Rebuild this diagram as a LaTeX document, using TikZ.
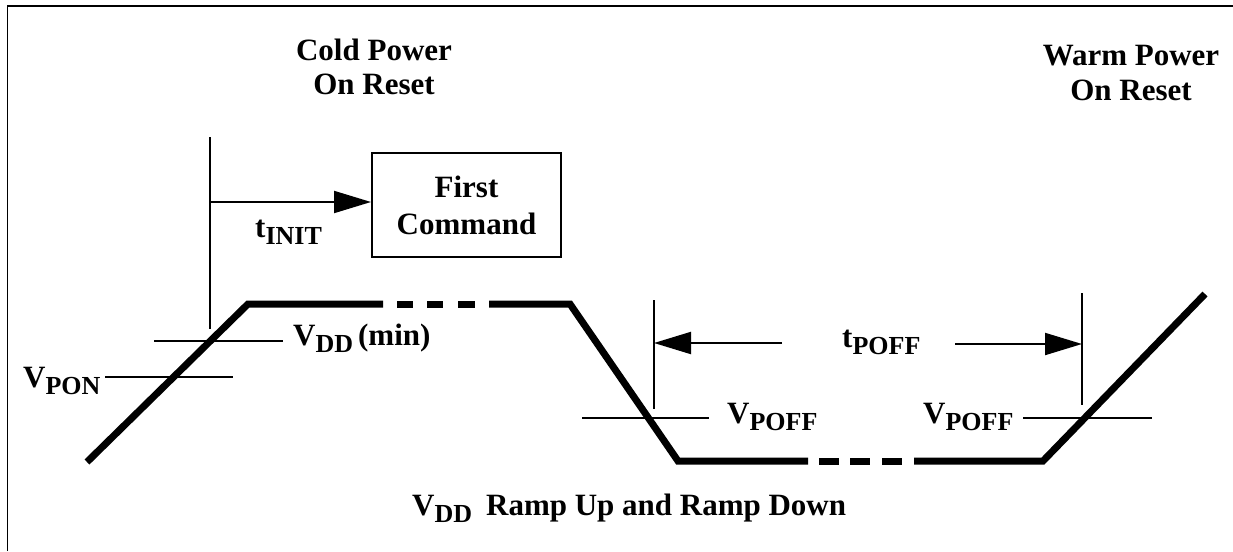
\documentclass[tikz,border=0pt]{standalone}
\usepackage{fontspec}
\setmainfont{Liberation Serif}
\usetikzlibrary{arrows.meta}
\newcommand\sbs[1]{\raisebox{-7.5pt}{\fontsize{26}{26}\selectfont #1}}
\begin{document}
\begin{tikzpicture}[x=1pt,y=-1pt,
  lbl/.style={font=\fontsize{31}{34}\selectfont\bfseries, inner sep=0pt, anchor=base west},
  ttl/.style={font=\fontsize{31}{34}\selectfont\bfseries, inner sep=0pt, anchor=base},
  thinln/.style={line width=2pt},
  wave/.style={line width=7pt, line join=miter},
  arr/.style={thinln, -{Triangle[length=37pt,width=22pt]}},
  frame/.style={line width=1.8pt}]
\useasboundingbox (0,0) rectangle (1233,551);
% frame
\draw[frame] (7.5,551) -- (7.5,6) -- (1233,6);
% headings
\node[ttl] (cold1) at (374,60) {Cold Power};
\node[ttl] (cold2) at (374,94) {On Reset};
\node[ttl] (warm1) at (1131,65) {Warm Power};
\node[ttl] (warm2) at (1131,100) {On Reset};
% first command box
\node[draw, line width=2pt, minimum width=189pt, minimum height=104pt, inner sep=0pt,
      align=center, font=\fontsize{31}{37}\selectfont\bfseries] (cmd) at (466.5,205) {First\\Command};
% t_INIT marker
\coordinate (initTop) at (210,137);
\coordinate (initBot) at (210,329);
\draw[thinln] (initTop) -- (initBot);
\coordinate (ia) at (210,202);
\draw[arr] (ia) -- (ia -| cmd.west);
\node[lbl] (tinit) at (255,237) {t\sbs{INIT}};
% level lines left
\coordinate (ponL) at (105,377); \coordinate (ponR) at (233,377);
\draw[thinln] (ponL) -- (ponR);
\coordinate (ddL) at (154,341); \coordinate (ddR) at (283,341);
\draw[thinln] (ddL) -- (ddR);
\node[lbl] (vpon) at (23,387) {V\sbs{PON}};
\node[lbl] (vddmin) at (293,345) {V\sbs{DD}\hspace{5pt}(min)};
% t_POFF markers
\coordinate (p1T) at (654,300); \coordinate (p1B) at (654,409);
\draw[thinln] (p1T) -- (p1B);
\coordinate (p2T) at (1082,293); \coordinate (p2B) at (1082,405);
\draw[thinln] (p2T) -- (p2B);
\coordinate (pa1) at (782,343);
\draw[arr] (pa1) -- (pa1 -| p1T);
\coordinate (pa2) at (955,344);
\draw[arr] (pa2) -- (pa2 -| p2T);
\node[lbl] (tpoff) at (842,347) {t\sbs{POFF}};
% V_POFF lines
\coordinate (off1L) at (582,418); \coordinate (off1R) at (709,418);
\draw[thinln] (off1L) -- (off1R);
\coordinate (off2L) at (1023,418); \coordinate (off2R) at (1152,418);
\draw[thinln] (off2L) -- (off2R);
\node[lbl] (vpoff1) at (727,423) {V\sbs{POFF}};
\node[lbl] (vpoff2) at (923,423) {V\sbs{POFF}};
% waveform
\coordinate (w0) at (87,462);
\coordinate (w1) at (248,304);
\coordinate (w2) at (383,304);
\coordinate (w3) at (489,304);
\coordinate (w4) at (570,304);
\coordinate (w5) at (678,461);
\coordinate (w6) at (808,461);
\coordinate (w7) at (914,461);
\coordinate (w8) at (1043,461);
\coordinate (w9) at (1205,294);
\draw[wave] (w0) -- (w1) -- (w2);
\draw[wave] (397,304) -- (413,304);
\draw[wave] (427,304) -- (443,304);
\draw[wave] (458,304) -- (475,304);
\draw[wave] (w3) -- (w4) -- (w5) -- (w6);
\draw[wave] (819,461) -- (839,461);
\draw[wave] (850,461) -- (870,461);
\draw[wave] (882,461) -- (902,461);
\draw[wave] (w7) -- (w8) -- (w9);
% caption
\node[lbl] (caption) at (412,515) {V\sbs{DD}\hspace{14pt}Ramp Up and Ramp Down};
\end{tikzpicture}
\end{document}
